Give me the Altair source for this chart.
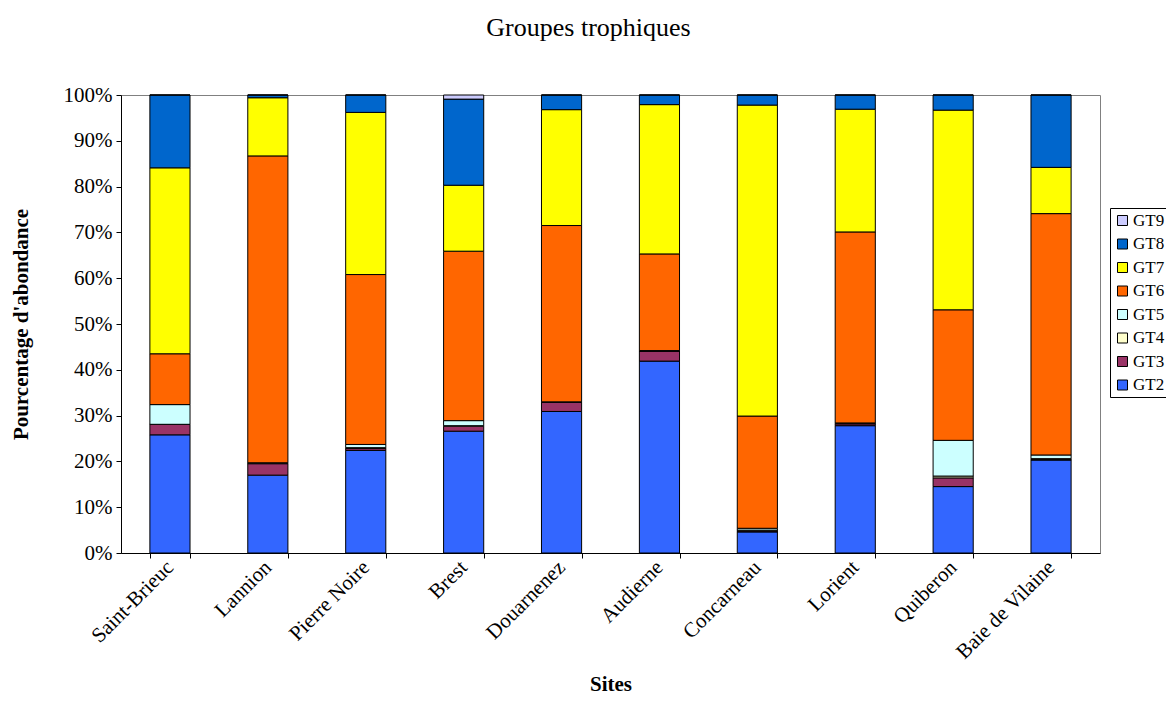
import altair as alt
import pandas as pd

sites = ["Saint-Brieuc", "Lannion", "Pierre Noire", "Brest", "Douarnenez",
         "Audierne", "Concarneau", "Lorient", "Quiberon", "Baie de Vilaine"]
groups = ["GT2", "GT3", "GT4", "GT5", "GT6", "GT7", "GT8", "GT9"]

gt2 = [25.8, 17.0, 22.4, 26.6, 30.9, 41.9, 4.6, 27.8, 14.5, 20.3]
gt3 = [2.3, 2.5, 0.4, 1.1, 2.0, 2.2, 0.2, 0.4, 1.9, 0.1]
gt4 = [0.0, 0.1, 0.2, 0.1, 0.0, 0.0, 0.2, 0.1, 0.4, 0.2]
gt5 = [4.3, 0.1, 0.7, 1.1, 0.1, 0.1, 0.4, 0.1, 7.8, 0.8]
gt6 = [11.1, 67.0, 37.1, 37.0, 38.5, 21.1, 24.5, 41.7, 28.5, 52.7]
gt7 = [40.6, 12.7, 35.4, 14.4, 25.3, 32.6, 67.9, 26.8, 43.6, 10.1]
gt8 = [15.9, 0.6, 3.8, 18.8, 3.2, 2.1, 2.2, 3.1, 3.3, 15.8]
gt9 = [0.0, 0.0, 0.0, 0.9, 0.0, 0.0, 0.0, 0.0, 0.0, 0.0]

colors = ["#3366FF", "#993366", "#FFFFCC", "#CCFFFF", "#FF6600", "#FFFF00", "#0066CC", "#CCCCFF"]

series = [gt2, gt3, gt4, gt5, gt6, gt7, gt8, gt9]
rows = []
for i, (g, vals) in enumerate(zip(groups, series)):
    for s, v in zip(sites, vals):
        rows.append({"Site": s, "Groupe": g, "Valeur": v, "ordre": i})
df = pd.DataFrame(rows)

FONT = "Liberation Serif"

chart = alt.Chart(df).mark_bar(stroke="black", strokeWidth=1).encode(
    x=alt.X("Site:N", sort=sites,
            scale=alt.Scale(paddingInner=0.59, paddingOuter=0.295),
            axis=alt.Axis(title="Sites", labelAngle=-45, labelAlign="right",
                          labelBaseline="middle", labelFont=FONT, labelFontSize=21,
                          labelColor="black", tickBand="extent", tickSize=5,
                          tickColor="black", domainColor="black",
                          labelPadding=6,
                          titleFont=FONT, titleFontSize=21, titleFontWeight="bold",
                          titleColor="black", titlePadding=11)),
    y=alt.Y("Valeur:Q", stack="normalize",
            scale=alt.Scale(domain=[0, 1], nice=False),
            axis=alt.Axis(title="Pourcentage d'abondance", format=".0%",
                          values=[i / 10 for i in range(11)], grid=False,
                          labelFont=FONT, labelFontSize=21, labelColor="black",
                          tickSize=5, tickColor="black", domainColor="black",
                          labelPadding=4,
                          titleFont=FONT, titleFontSize=21, titleFontWeight="bold",
                          titleColor="black", titlePadding=32)),
    color=alt.Color("Groupe:N",
                    scale=alt.Scale(domain=groups[::-1], range=colors[::-1]),
                    legend=alt.Legend(title=None, orient="none", legendX=989, legendY=113,
                                      strokeColor="black", padding=4,
                                      symbolType="square", symbolSize=100,
                                      symbolStrokeColor="black", symbolStrokeWidth=1,
                                      labelFont=FONT, labelFontSize=17, labelColor="black",
                                      rowPadding=5.5, labelOffset=2)),
    order=alt.Order("ordre:Q", sort="ascending"),
).properties(
    width=979, height=458,
    title=alt.TitleParams("Groupes trophiques", font=FONT, fontSize=26,
                          fontWeight="normal", color="black", anchor="middle",
                          dx=-22, offset=43),
    autosize=alt.AutoSizeParams(type="none"),
    padding={"left": 113, "top": 87, "right": 66, "bottom": 144},
).configure_view(stroke="#808080", strokeWidth=1)

chart.save("out.html", embed_options={"renderer": "svg", "actions": False})
